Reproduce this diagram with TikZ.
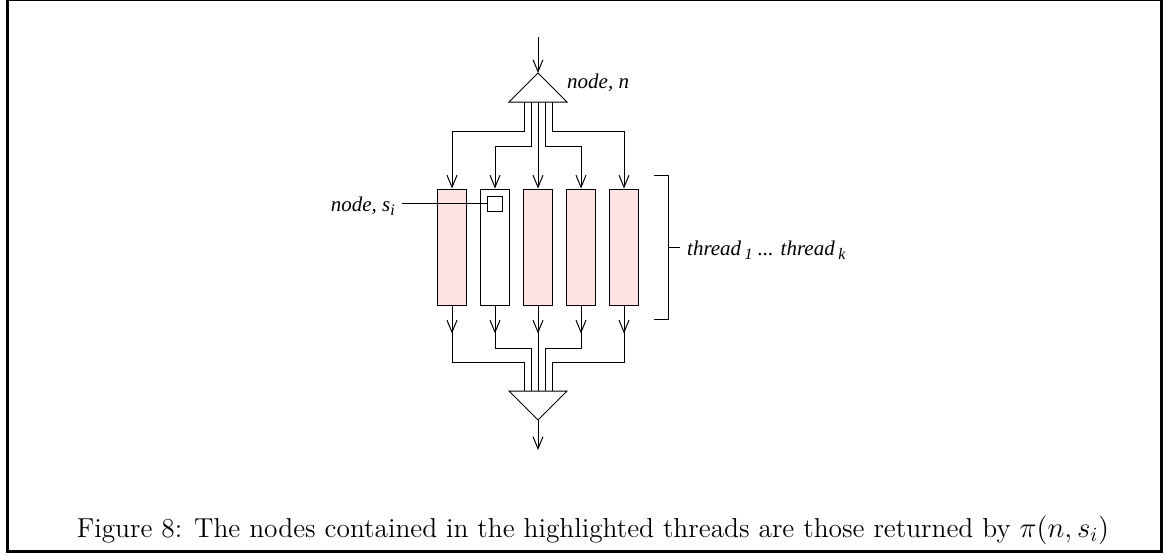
\documentclass[tikz,border=0pt]{standalone}
\usepackage{amsmath,amssymb}
\usepackage{fontspec}
\usepackage{xcolor}
\usepackage{tikz}
\usetikzlibrary{
    arrows.meta,
    positioning,
    calc
}
\newfontfamily\timesfont{Liberation Serif}
\definecolor{threadPink}{RGB}{255,226,226}
\newcommand{\lowsub}[1]{\raisebox{-0.45ex}{\fontsize{8}{9}\selectfont #1}}

\begin{document}
\begin{tikzpicture}[
    x=0.5pt,
    y=-0.5pt,
    line width=0.5pt,
    arr/.style={
        -{Straight Barb[length=6pt,width=5pt]}
    },
    thread/.style={
        draw,
        fill=threadPink,
        minimum width=14.5pt,
        minimum height=58pt,
        inner sep=0pt
    },
    tag/.style={
        font=\timesfont\itshape\fontsize{10.5}{12}\selectfont
    }
]

\useasboundingbox (0,0) rectangle (1165,554);

% =============================================================
% Frame
% =============================================================

\draw[line width=1.5pt]
    (7.5,0) -- (7.5,551.5) -- (1161.5,551.5) -- (1161.5,0);
\draw (8,0.5) -- (1161,0.5);

% =============================================================
% Node n: input and fork
% =============================================================

\coordinate (in)   at (538,37);
\coordinate (apex) at (538,73);
\coordinate (fork) at (538,102);

\draw (apex) -- (509,102) -- (567,102) -- cycle;
\draw[arr] (in) -- (apex);

\node[tag, anchor=base west] (nodeN) at (560,88) {node, n};

% Threads
\foreach \t/\x/\f in {1/452/threadPink, 2/495/white, 3/538/threadPink,
                      4/581/threadPink, 5/624/threadPink}{
    \node[thread, fill=\f] (t\t) at (\x,247) {};
}

% Fan-out to the threads
\draw[arr] ([xshift=-7pt]fork)   -- ++(0,29) -| (t1.north);
\draw[arr] ([xshift=-3.5pt]fork) -- ++(0,44) -| (t2.north);
\draw[arr] (fork)                -- (t3.north);
\draw[arr] ([xshift=3.5pt]fork)  -- ++(0,44) -| (t4.north);
\draw[arr] ([xshift=7pt]fork)    -- ++(0,29) -| (t5.north);

% Node s_i inside the second thread
\node[
    draw,
    fill=white,
    minimum size=7.5pt,
    inner sep=0pt
] (si) at (494.5,203.5) {};

\node[tag, anchor=base east] (siLabel) at (402,211) {node, s\lowsub{i}};

\draw (siLabel.east |- si.west) -- (si.west);

% =============================================================
% Join and output
% =============================================================

\coordinate (join)  at (538,391);
\coordinate (apexB) at (538,420);
\coordinate (out)   at (538,450);

\draw (509,391) -- (567,391) -- (apexB) -- cycle;

\foreach \t in {1,...,5}{
    \draw[arr] (t\t.south) -- ++(0,28);
}

\draw (t1.south) -- ++(0,57) -| ([xshift=-7pt]join);
\draw (t2.south) -- ++(0,43) -| ([xshift=-3.5pt]join);
\draw (t3.south) -- (join);
\draw (t4.south) -- ++(0,43) -| ([xshift=3.5pt]join);
\draw (t5.south) -- ++(0,57) -| ([xshift=7pt]join);

\draw[arr] (apexB) -- (out);

% =============================================================
% Bracket over the threads
% =============================================================

\coordinate (brk) at (668,247);

\draw (654,175) -- (668,175) -- (668,319) -- (654,319);

\node[tag, anchor=base west] (threads) at (680,255)
{thread\,\lowsub{1} ... thread\,\lowsub{k}};

\draw (brk) -- (brk -| threads.west);

% =============================================================
% Caption
% =============================================================

\node[
    anchor=base,
    font=\fontsize{13.7}{16}\selectfont,
    inner sep=0pt
] (caption) at (593,537)
{Figure 8: The nodes contained in the highlighted threads are those returned by \(\pi(n,s_i)\)};

\end{tikzpicture}
\end{document}
